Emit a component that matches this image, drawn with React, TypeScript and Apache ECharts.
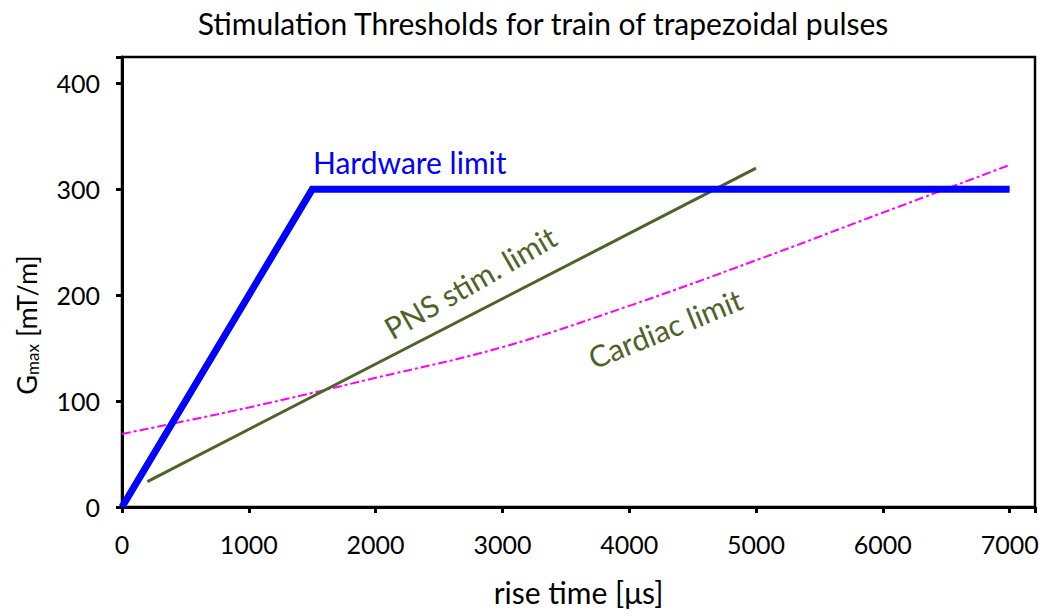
import React, { useEffect, useRef } from "react";
import * as echarts from "echarts";

const title = "Stimulation Thresholds for train of trapezoidal pulses";
const xTicks = [0, 1000, 2000, 3000, 4000, 5000, 6000, 7000];
const yTicks = [0, 100, 200, 300, 400];
const hardwareLimit: [number, number][] = [
  [0, 0],
  [1500, 300],
  [7000, 300],
];
const pnsLimit: [number, number][] = [
  [200, 24],
  [5000, 320],
];
const cardiacLimit: [number, number][] = [
  [0, 69],
  [1000, 94],
  [2000, 122],
  [3000, 151],
  [4000, 190],
  [5000, 233],
  [6000, 278],
  [7000, 323],
];

const FONT = "Lato, 'Open Sans', sans-serif";

export default function App() {
  const ref = useRef<HTMLDivElement>(null);
  useEffect(() => {
    if (!ref.current) return;
    const chart = echarts.init(ref.current, null, { renderer: "svg" });
    chart.setOption({
      animation: false,
      backgroundColor: "#fff",
      textStyle: { fontFamily: FONT },
      grid: {
        left: 122,
        right: 12,
        top: 57,
        bottom: 109,
        show: true,
        borderColor: "#000",
        borderWidth: 2.5,
        backgroundColor: "transparent",
      },
      xAxis: {
        type: "value",
        min: 0,
        max: 7200,
        interval: 1000,
        name: "rise time [μs]",
        nameLocation: "middle",
        nameGap: 70,
        nameTextStyle: { fontFamily: FONT, fontSize: 30, color: "#000" },
        axisLine: { show: true, lineStyle: { color: "#000", width: 3 } },
        axisTick: { show: true, inside: false, length: 6, lineStyle: { color: "#000", width: 3 } },
        axisLabel: {
          margin: 24,
          fontFamily: FONT,
          fontSize: 25,
          color: "#000",
          formatter: (v: number) => (xTicks.includes(v) ? String(v) : ""),
        },
        splitLine: { show: false },
      },
      yAxis: {
        type: "value",
        min: 0,
        max: 425,
        interval: 100,
        axisLine: { show: true, lineStyle: { color: "#000", width: 3 } },
        axisTick: { show: true, inside: false, length: 6, lineStyle: { color: "#000", width: 3 } },
        axisLabel: {
          margin: 22,
          fontFamily: FONT,
          fontSize: 25,
          color: "#000",
          formatter: (v: number) => (yTicks.includes(v) ? String(v) : ""),
        },
        splitLine: { show: false },
      },
      series: [
        {
          name: "Cardiac limit",
          type: "line",
          data: cardiacLimit,
          smooth: 0.4,
          showSymbol: false,
          lineStyle: { color: "#FF00FF", width: 2, type: [9, 3, 3, 3] },
          z: 2,
        },
        {
          name: "PNS stim. limit",
          type: "line",
          data: pnsLimit,
          showSymbol: false,
          lineStyle: { color: "#4F6228", width: 3 },
          z: 3,
        },
        {
          name: "Hardware limit",
          type: "line",
          data: hardwareLimit,
          showSymbol: false,
          lineStyle: { color: "#0000FF", width: 7, cap: "butt", join: "miter" },
          z: 4,
        },
      ],
      graphic: [
        {
          type: "text",
          x: 543,
          y: 23,
          style: {
            text: title,
            fontFamily: FONT,
            fontSize: 30,
            fill: "#000",
            align: "center",
            verticalAlign: "middle",
          },
        },
        {
          type: "text",
          x: 26,
          y: 325,
          rotation: Math.PI / 2,
          style: {
            text: "{g|G}{sub|max}{g| [mT/m]}",
            align: "center",
            verticalAlign: "middle",
            rich: {
              g: { fontFamily: FONT, fontSize: 27, fill: "#000", color: "#000" },
              sub: {
                fontFamily: FONT,
                fontSize: 17,
                fill: "#000",
                color: "#000",
                padding: [12, 0, 0, 0],
              },
            },
          },
        },
        {
          type: "text",
          x: 313,
          y: 162,
          style: {
            text: "Hardware limit",
            fontFamily: FONT,
            fontSize: 30,
            fill: "#0000FF",
            align: "left",
            verticalAlign: "middle",
          },
        },
        {
          type: "text",
          x: 470,
          y: 282,
          rotation: (30 * Math.PI) / 180,
          style: {
            text: "PNS stim. limit",
            fontFamily: FONT,
            fontSize: 30,
            fill: "#4F6228",
            align: "center",
            verticalAlign: "middle",
          },
        },
        {
          type: "text",
          x: 665,
          y: 328,
          rotation: (22 * Math.PI) / 180,
          style: {
            text: "Cardiac limit",
            fontFamily: FONT,
            fontSize: 30,
            fill: "#4F6228",
            align: "center",
            verticalAlign: "middle",
          },
        },
      ],
    });
    return () => chart.dispose();
  }, []);
  return (
    <div
      ref={ref}
      style={{ position: "fixed", left: 0, top: 0, width: 1047, height: 616 }}
    />
  );
}
